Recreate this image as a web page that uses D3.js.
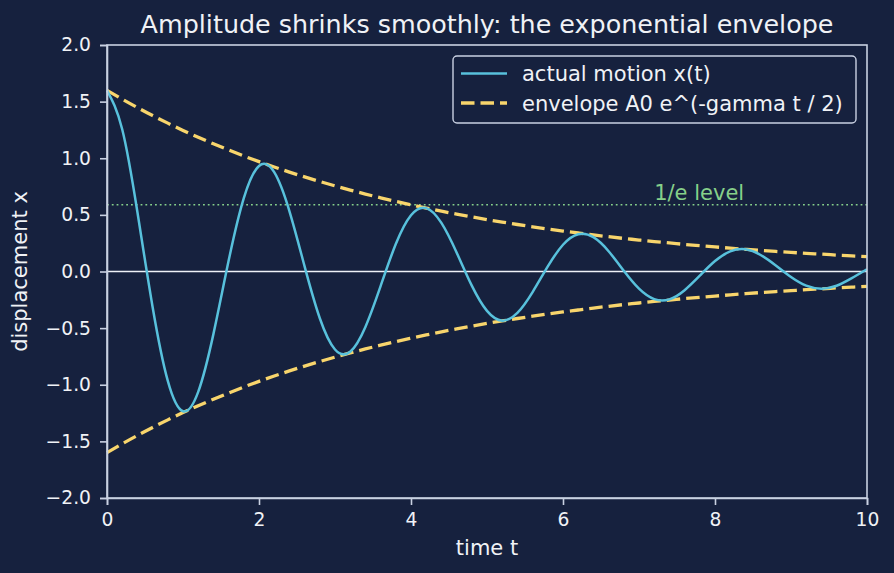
<!DOCTYPE html>
<html>
<head>
<meta charset="utf-8">
<script src="https://cdn.jsdelivr.net/npm/d3@7"></script>
<style>
  html, body { margin: 0; padding: 0; background: #16213e; }
  svg { display: block; font-family: "DejaVu Sans", sans-serif; }
</style>
</head>
<body>
<svg id="chart"></svg>
<script>
const times = [0, 0.2, 0.4, 0.6, 0.8, 1.0, 1.2, 1.4, 1.6, 1.8, 2.0, 2.2, 2.4, 2.6, 2.8, 3.0, 3.2, 3.4, 3.6, 3.8,
  4.0, 4.2, 4.4, 4.6, 4.8, 5.0, 5.2, 5.4, 5.6, 5.8, 6.0, 6.2, 6.4, 6.6, 6.8, 7.0, 7.2, 7.4, 7.6, 7.8,
  8.0, 8.2, 8.4, 8.6, 8.8, 9.0, 9.2, 9.4, 9.6, 9.8, 10.0];
const motion = [1.600, 1.256, 0.525, -0.313, -0.966, -1.234, -1.063, -0.553, 0.094, 0.648, 0.932, 0.877, 0.534, 0.045, -0.413, -0.689, -0.708, -0.489, -0.129, 0.243,
  0.497, 0.560, 0.429, 0.168, -0.125, -0.348, -0.434, -0.366, -0.182, 0.045, 0.236, 0.329, 0.303, 0.179, 0.006, -0.152, -0.244, -0.246, -0.165, -0.037,
  0.092, 0.177, 0.196, 0.146, 0.053, -0.049, -0.125, -0.152, -0.126, -0.059, 0.020];
const envelope = [1.600, 1.522, 1.448, 1.377, 1.310, 1.246, 1.185, 1.128, 1.073, 1.020, 0.970, 0.923, 0.878, 0.835, 0.795, 0.756, 0.719, 0.684, 0.651, 0.619,
  0.589, 0.560, 0.533, 0.507, 0.482, 0.458, 0.436, 0.415, 0.395, 0.375, 0.357, 0.340, 0.323, 0.307, 0.292, 0.278, 0.264, 0.252, 0.239, 0.228,
  0.217, 0.206, 0.196, 0.186, 0.177, 0.169, 0.160, 0.153, 0.145, 0.138, 0.131];
const oneOverE = 0.589;
const xTicks = [0, 2, 4, 6, 8, 10];
const yTicks = [-2.0, -1.5, -1.0, -0.5, 0.0, 0.5, 1.0, 1.5, 2.0];
const legendLabels = ["actual motion x(t)", "envelope A0 e^(-gamma t / 2)"];

const W = 894, H = 573;
const margin = {top: 45, right: 27, bottom: 75, left: 107};
const width = W - margin.left - margin.right;
const height = H - margin.top - margin.bottom;

const bg = "#16213e", fg = "#f0f2f6", spine = "#c9d1e2";
const cMotion = "#58c1dc", cEnv = "#f8d56c", cGreen = "#86d08a";
const envDash = "13.5,6";

const svg = d3.select("#chart").attr("width", W).attr("height", H);
svg.append("rect").attr("width", W).attr("height", H).attr("fill", bg);

const g = svg.append("g").attr("transform", `translate(${margin.left},${margin.top})`);

const x = d3.scaleLinear().domain([0, 10]).range([0, width]);
const y = d3.scaleLinear().domain([-2, 2]).range([height, 0]);

// zero line
g.append("line")
  .attr("x1", 0).attr("x2", width)
  .attr("y1", y(0)).attr("y2", y(0))
  .attr("stroke", "#eef1f7").attr("stroke-width", 1.6);

// 1/e level
g.append("line")
  .attr("x1", 0).attr("x2", width)
  .attr("y1", y(oneOverE)).attr("y2", y(oneOverE))
  .attr("stroke", cGreen).attr("stroke-width", 1.6)
  .attr("stroke-dasharray", "1.8,3");
g.append("text")
  .attr("x", x(7.2)).attr("y", y(oneOverE) - 5)
  .attr("fill", cGreen).attr("font-size", 21)
  .text("1/e level");

const line = d3.line().x((d, i) => x(times[i])).y(d => y(d)).curve(d3.curveNatural);

g.append("path").datum(envelope)
  .attr("fill", "none").attr("stroke", cEnv).attr("stroke-width", 3.3)
  .attr("stroke-dasharray", envDash).attr("d", line);
g.append("path").datum(envelope.map(v => -v))
  .attr("fill", "none").attr("stroke", cEnv).attr("stroke-width", 3.3)
  .attr("stroke-dasharray", envDash).attr("d", line);

g.append("path").datum(motion)
  .attr("fill", "none").attr("stroke", cMotion).attr("stroke-width", 2.5)
  .attr("d", line);

// axes
const xAxis = g.append("g").attr("transform", `translate(0,${height})`)
  .call(d3.axisBottom(x).tickValues(xTicks).tickFormat(d3.format("d")).tickSizeOuter(0).tickSize(7).tickPadding(8));
const yAxis = g.append("g")
  .call(d3.axisLeft(y).tickValues(yTicks).tickFormat(d => d3.format(".1f")(d).replace("-", "\u2212")).tickSizeOuter(0).tickSize(7).tickPadding(9));
[xAxis, yAxis].forEach(a => {
  a.select(".domain").attr("stroke", spine).attr("stroke-width", 1.6);
  a.selectAll(".tick line").attr("stroke", spine).attr("stroke-width", 1.6);
  a.selectAll(".tick text").attr("fill", fg).attr("font-size", 18.7).attr("font-family", "DejaVu Sans");
});
g.append("rect").attr("width", width).attr("height", height)
  .attr("fill", "none").attr("stroke", spine).attr("stroke-width", 1.6);

// labels
svg.append("text").attr("x", margin.left + width / 2).attr("y", 555)
  .attr("text-anchor", "middle").attr("fill", fg).attr("font-size", 21).text("time t");
svg.append("text").attr("transform", `translate(27,${margin.top + height / 2}) rotate(-90)`)
  .attr("text-anchor", "middle").attr("fill", fg).attr("font-size", 21).text("displacement x");
svg.append("text").attr("x", margin.left + width / 2).attr("y", 33)
  .attr("text-anchor", "middle").attr("fill", fg).attr("font-size", 25.4).text("Amplitude shrinks smoothly: the exponential envelope");

// legend
const lg = svg.append("g").attr("transform", "translate(453,56)");
lg.append("rect").attr("width", 403).attr("height", 67).attr("rx", 4)
  .attr("fill", bg).attr("stroke", spine).attr("stroke-width", 1.4);
const rows = [{c: cMotion, dash: null, w: 2.5}, {c: cEnv, dash: envDash, w: 3.3}];
rows.forEach((r, i) => {
  const yy = 17.5 + i * 29.5;
  lg.append("line").attr("x1", 8).attr("x2", 54).attr("y1", yy).attr("y2", yy)
    .attr("stroke", r.c).attr("stroke-width", r.w).attr("stroke-dasharray", r.dash);
  lg.append("text").attr("x", 69).attr("y", yy + 7.5).attr("fill", fg).attr("font-size", 21)
    .text(legendLabels[i]);
});
</script>
</body>
</html>
